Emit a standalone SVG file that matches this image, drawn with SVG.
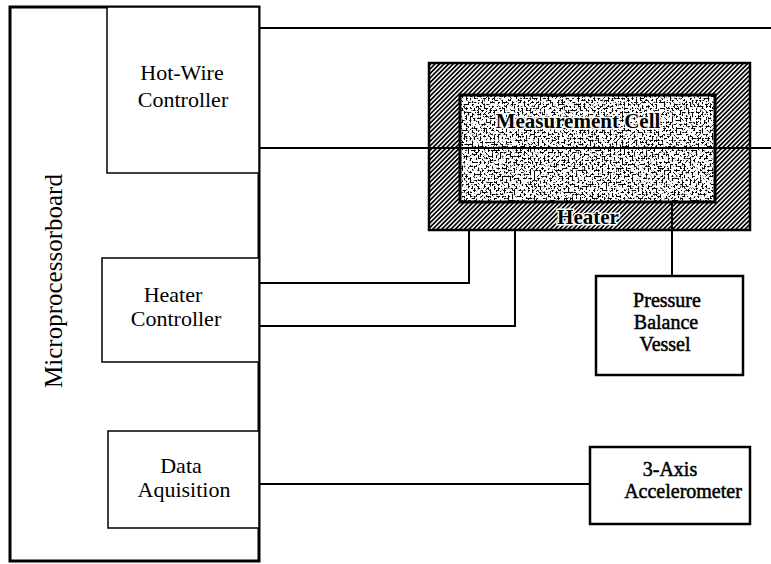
<svg xmlns="http://www.w3.org/2000/svg" width="771" height="564" viewBox="0 0 771 564">
<defs>
<pattern id="hatch" patternUnits="userSpaceOnUse" width="3.2" height="3.2" patternTransform="rotate(45)">
<rect width="3.2" height="3.2" fill="#fff"/>
<rect width="1.7" height="3.2" fill="#000"/>
</pattern>
<filter id="stipple" x="0" y="0" width="100%" height="100%">
<feTurbulence type="fractalNoise" baseFrequency="0.5" numOctaves="1" seed="4"/>
<feColorMatrix type="matrix" values="0 0 0 0 0  0 0 0 0 0  0 0 0 0 0  14 0 0 0 -7.1"/>
</filter>
<style>
text{fill:#000;text-anchor:middle}
.box{fill:#fff;stroke:#000;stroke-width:1.5}
.bx2{fill:#fff;stroke:#000;stroke-width:2.5}
.ln{fill:none;stroke:#000;stroke-width:2}
.tb{stroke:#000;stroke-width:0.5}
.halo{font-weight:bold;stroke:#fff;stroke-width:3;paint-order:stroke;stroke-linejoin:round}
</style>
</defs>
<rect width="771" height="564" fill="#fff"/>
<g id="connectors">
<path class="ln" d="M259 28 H771"/>
<path class="ln" d="M259 283 H469 V230"/>
<path class="ln" d="M259 326 H515 V230"/>
<path class="ln" d="M259 484 H590"/>
</g>
<g id="heater">
<rect x="429" y="63" width="321" height="167" fill="url(#hatch)" stroke="#000" stroke-width="2.5"/>
<text class="halo" x="588" y="224" font-family="Liberation Serif, Times New Roman, serif" font-size="21">Heater</text>
</g>
<g id="measurement-cell">
<rect x="460" y="95" width="255" height="107" fill="#fff"/>
<rect x="460" y="95" width="255" height="107" fill="#fff" filter="url(#stipple)"/>
<rect x="460" y="95" width="255" height="107" fill="none" stroke="#000" stroke-width="3"/>
<text class="halo" x="578" y="128" font-family="Liberation Serif, Times New Roman, serif" font-size="21">Measurement Cell</text>
</g>
<g id="connectors-over">
<path class="ln" d="M259 148 H771"/>
<path class="ln" d="M672 202 V276" stroke-width="2.5"/>
</g>
<g id="microprocessorboard">
<rect x="10" y="7" width="249" height="554" fill="#fff" stroke="#000" stroke-width="3"/>
<text transform="translate(62,281) rotate(-90)" font-family="Liberation Serif, Times New Roman, serif" font-size="25">Microprocessorboard</text>
</g>
<g id="hot-wire-controller" font-family="Liberation Serif, Times New Roman, serif" font-size="22">
<rect class="box" x="107" y="7" width="152" height="166"/>
<text x="182" y="80">Hot-Wire</text>
<text x="183" y="107">Controller</text>
</g>
<g id="heater-controller" font-family="Liberation Serif, Times New Roman, serif" font-size="22">
<rect class="box" x="102" y="258" width="157" height="104"/>
<text x="173" y="302">Heater</text>
<text x="176" y="326">Controller</text>
</g>
<g id="data-aquisition" font-family="Liberation Serif, Times New Roman, serif" font-size="22">
<rect class="box" x="108" y="431" width="151" height="97"/>
<text x="181" y="473">Data</text>
<text x="184" y="497">Aquisition</text>
</g>
<g id="pressure-balance-vessel" font-family="Liberation Serif, Times New Roman, serif" font-size="20">
<rect class="bx2" x="596" y="276" width="147" height="99"/>
<text class="tb" x="667" y="307">Pressure</text>
<text class="tb" x="666" y="329">Balance</text>
<text class="tb" x="665" y="351">Vessel</text>
</g>
<g id="accelerometer" font-family="Liberation Serif, Times New Roman, serif" font-size="20">
<rect class="bx2" x="590" y="447" width="160" height="77"/>
<text class="tb" x="670" y="476">3-Axis</text>
<text class="tb" x="683" y="498">Accelerometer</text>
</g>
</svg>
